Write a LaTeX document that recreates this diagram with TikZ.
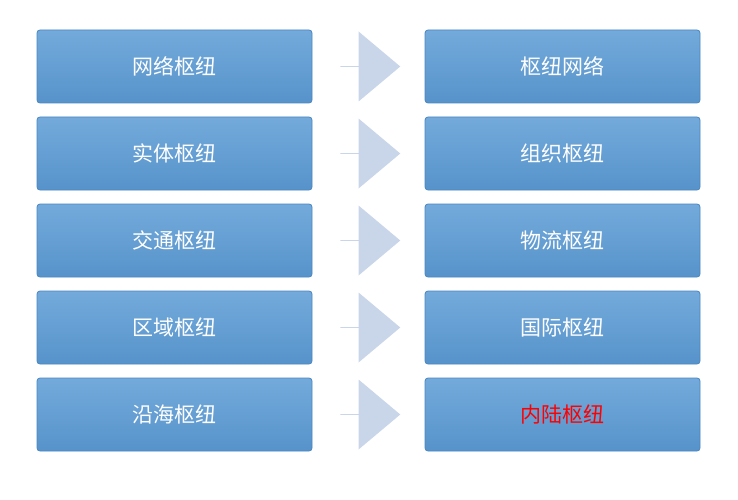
\documentclass[tikz,border=0pt]{standalone}
\usepackage{fontspec}
\newfontfamily\cjk{Noto Sans CJK SC}
\usetikzlibrary{shapes.arrows}
\definecolor{boxblue}{HTML}{5B9BD5}
\definecolor{boxedge}{HTML}{4A86C0}
\definecolor{arr}{HTML}{C9D6EA}
\tikzset{
 hub/.style={draw=boxedge, line width=0.8pt, top color=boxblue!85!white, bottom color=boxblue!95!black, rounded corners=3pt, minimum width=275pt, minimum height=73pt, font=\cjk\fontsize{21}{21}\selectfont, text=white},
 arrowshape/.style={single arrow, fill=arr, draw=none, minimum width=70pt, minimum height=60pt, single arrow head extend=15pt, single arrow tip angle=80, inner sep=0pt}
}
\begin{document}
\begin{tikzpicture}[x=1pt,y=-1pt]
\useasboundingbox (0,0) rectangle (738,500);
\foreach \i/\l/\r in {0/网络枢纽/枢纽网络,1/实体枢纽/组织枢纽,2/交通枢纽/物流枢纽,3/区域枢纽/国际枢纽}{
 \node[hub] (L\i) at (174.5,{66.5+87*\i}) {\l};
 \node[hub] (R\i) at (562.5,{66.5+87*\i}) {\r};
 \node[arrowshape] (A\i) at (370,{66.5+87*\i}) {};
}
\node[hub] (L4) at (174.5,414.5) {沿海枢纽};
\node[hub, text=red] (R4) at (562.5,414.5) {内陆枢纽};
\node[arrowshape] (A4) at (370,414.5) {};
\end{tikzpicture}
\end{document}
